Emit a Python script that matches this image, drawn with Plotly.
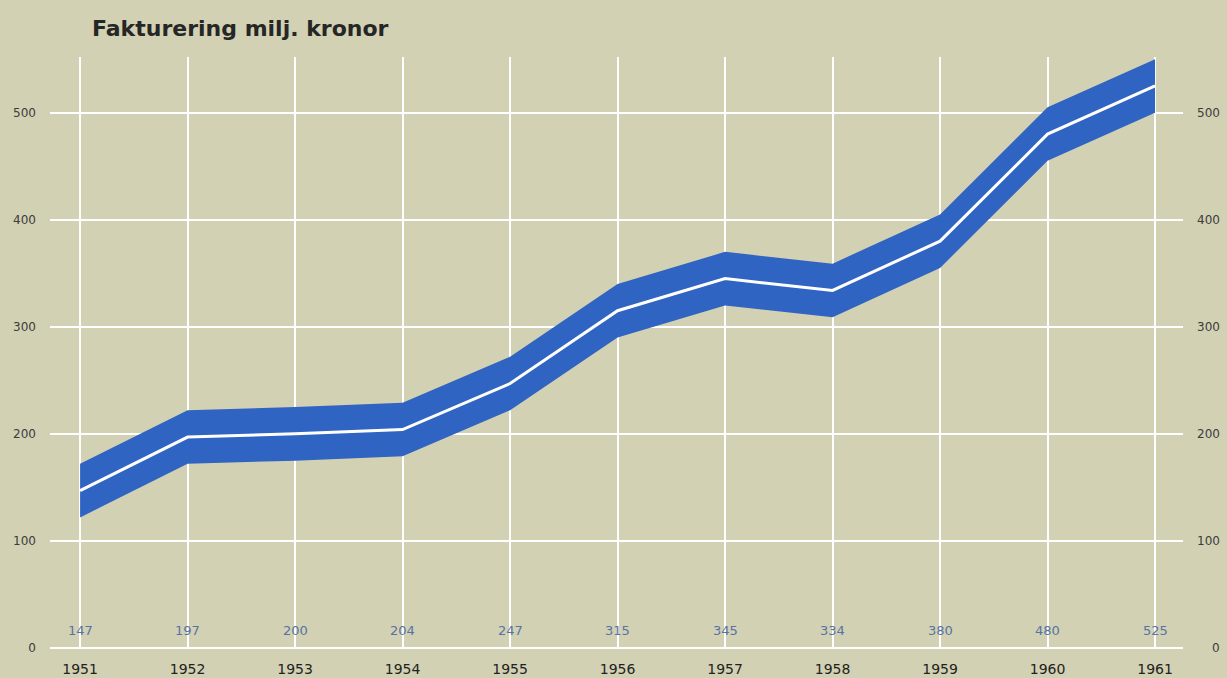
import plotly.graph_objects as go

years = [1951, 1952, 1953, 1954, 1955, 1956, 1957, 1958, 1959, 1960, 1961]
values = [147, 197, 200, 204, 247, 315, 345, 334, 380, 480, 525]
y_ticks = [0, 100, 200, 300, 400, 500]
title_text = "Fakturering milj. kronor"

BAND_HALF = 25
BG = "#d2d1b3"
BLUE = "#3064c2"
FONT = "DejaVu Sans"

upper = [v + BAND_HALF for v in values]
lower = [v - BAND_HALF for v in values]

fig = go.Figure()
fig.add_trace(go.Scatter(
    x=years + years[::-1], y=upper + lower[::-1],
    fill="toself", fillcolor=BLUE, mode="lines",
    line=dict(width=0, color=BLUE), hoverinfo="skip", showlegend=False))
fig.add_trace(go.Scatter(
    x=years, y=values, mode="lines",
    line=dict(color="white", width=3), showlegend=False))

# value labels above the zero line
for yr, v in zip(years, values):
    fig.add_annotation(x=yr, y=0, text=str(v), showarrow=False,
                       yshift=18, font=dict(family=FONT, size=13, color="#5773a6"))

# right side tick labels (right-aligned)
for t in y_ticks:
    fig.add_annotation(x=(1222 - 50) / 1133, xref="paper", y=t, yref="y", text=str(t),
                       showarrow=False, xanchor="right",
                       font=dict(family=FONT, size=12, color="#3c3c3c"))

fig.add_annotation(x=(90 - 50) / 1133, xref="paper", y=1 + (57 - 28) / 591, yref="paper",
                   text="<b>%s</b>" % title_text, showarrow=False,
                   xanchor="left", yanchor="middle",
                   font=dict(family=FONT, size=22, color="#262626"))

fig.update_layout(
    width=1227, height=678,
    margin=dict(l=50, r=44, t=57, b=30, pad=0),
    paper_bgcolor=BG, plot_bgcolor=BG,
    xaxis=dict(range=[1950.72, 1961.26], tickvals=years, ticktext=[str(y) for y in years],
               showgrid=True, gridcolor="white", gridwidth=2, zeroline=False,
               showline=False, ticks="", ticklabelstandoff=11, automargin=False,
               tickfont=dict(family=FONT, size=14, color="#222222")),
    yaxis=dict(range=[0, 552], tickvals=y_ticks, showgrid=True, gridcolor="white",
               gridwidth=2, zeroline=True, zerolinecolor="white", zerolinewidth=2,
               showline=False, ticks="", ticklabelstandoff=13, automargin=False,
               tickfont=dict(family=FONT, size=12, color="#3c3c3c")),
)

fig.write_html("out.html", config={"displayModeBar": False},
               post_script="document.body.style.margin='0';")
